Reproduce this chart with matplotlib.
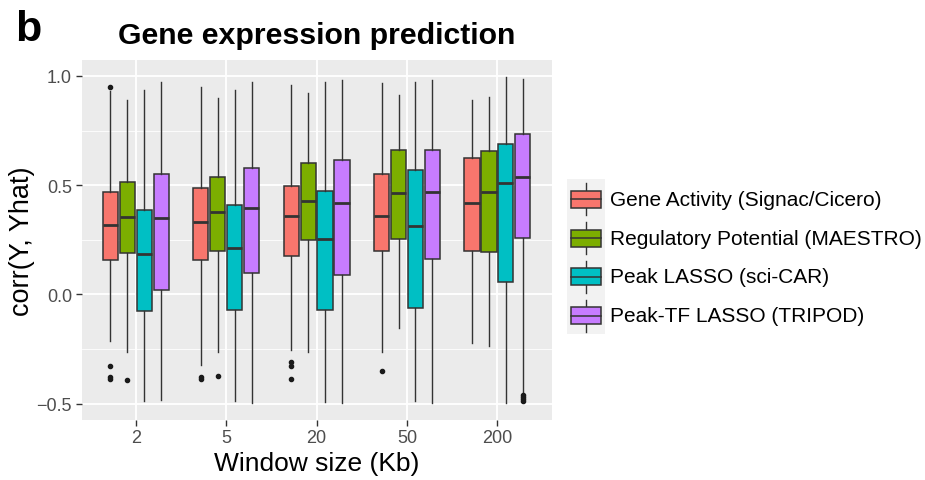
import matplotlib
matplotlib.use('Agg')
import matplotlib.pyplot as plt
from matplotlib.patches import Rectangle

plt.rcParams['font.family'] = ['Liberation Sans', 'DejaVu Sans']

# Data
windows = ['2', '5', '20', '50', '200']
methods = ['Gene Activity (Signac/Cicero)', 'Regulatory Potential (MAESTRO)',
           'Peak LASSO (sci-CAR)', 'Peak-TF LASSO (TRIPOD)']
colors = ['#F8766D', '#7CAE00', '#00BFC4', '#C77CFF']

# one row per method, one column per window size
medians = [[0.319, 0.331, 0.359, 0.359, 0.418],
           [0.353, 0.377, 0.427, 0.463, 0.470],
           [0.186, 0.212, 0.255, 0.315, 0.510],
           [0.350, 0.394, 0.418, 0.467, 0.539]]
q1 = [[0.159, 0.159, 0.177, 0.198, 0.200],
      [0.188, 0.200, 0.249, 0.253, 0.192],
      [-0.076, -0.073, -0.072, -0.063, 0.056],
      [0.021, 0.096, 0.087, 0.162, 0.260]]
q3 = [[0.469, 0.489, 0.498, 0.550, 0.626],
      [0.513, 0.536, 0.600, 0.663, 0.658],
      [0.388, 0.408, 0.475, 0.569, 0.687],
      [0.551, 0.577, 0.615, 0.660, 0.733]]
whisk_lo = [[-0.212, -0.324, -0.255, -0.263, -0.224],
            [-0.266, -0.263, -0.263, -0.153, -0.238],
            [-0.490, -0.490, -0.495, -0.490, -0.496],
            [-0.482, -0.498, -0.499, -0.499, -0.450]]
whisk_hi = [[0.933, 0.951, 0.959, 0.968, 0.889],
            [0.892, 0.898, 0.921, 0.913, 0.904],
            [0.937, 0.937, 0.974, 0.971, 0.997],
            [0.974, 0.974, 0.982, 0.982, 0.985]]
outliers = [[[0.951, -0.327, -0.380, -0.388], [-0.380, -0.388],
             [-0.308, -0.327, -0.388], [-0.350], []],
            [[-0.392], [-0.373], [], [], []],
            [[], [], [], [], []],
            [[], [], [], [], [-0.46, -0.47, -0.48, -0.49]]]

W, H = 925, 481
fig = plt.figure(figsize=(W / 100, H / 100), dpi=100)
ax = fig.add_axes([81.6 / W, (H - 420.7) / H, 470 / W, 359.5 / H])
ax.set_facecolor('#EBEBEB')

slot = 0.75 / 4
edge = '#333333'
for m in range(4):
    stats = []
    for w in range(5):
        stats.append(dict(med=medians[m][w], q1=q1[m][w], q3=q3[m][w],
                          whislo=whisk_lo[m][w], whishi=whisk_hi[m][w],
                          fliers=outliers[m][w]))
    pos = [w + 1 + (m - 1.5) * slot for w in range(5)]
    ax.bxp(stats, positions=pos, widths=slot * 0.9, patch_artist=True,
           showcaps=False,
           boxprops=dict(facecolor=colors[m], edgecolor=edge, linewidth=1.1),
           medianprops=dict(color=edge, linewidth=2.0),
           whiskerprops=dict(color=edge, linewidth=1.0),
           flierprops=dict(marker='o', markersize=3, markerfacecolor='#1a1a1a',
                           markeredgecolor='#1a1a1a'),
           zorder=3)

ax.set_xlim(0.4, 5.6)
ax.set_ylim(-0.574, 1.072)
ax.set_xticks(range(1, 6))
ax.set_xticklabels(windows)
ax.set_yticks([-0.5, 0.0, 0.5, 1.0])
ax.set_yticklabels(['\u22120.5', '0.0', '0.5', '1.0'])
ax.set_yticks([-0.25, 0.25, 0.75], minor=True)
ax.grid(True, which='major', color='white', linewidth=1.3, zorder=0)
ax.grid(True, which='minor', axis='y', color='white', linewidth=0.6, zorder=0)
ax.set_axisbelow(True)
for s in ax.spines.values():
    s.set_visible(False)
ax.tick_params(axis='both', which='major', colors='#333333', length=4, width=1.0,
               labelsize=13, labelcolor='#4D4D4D', pad=3)
ax.tick_params(axis='y', which='minor', length=0)
ax.set_xlabel('Window size (Kb)', fontsize=19)
ax.xaxis.set_label_coords(0.5, -0.088)
ax.set_ylabel('corr(Y, Yhat)', fontsize=19.5)
ax.yaxis.set_label_coords(-0.099, 0.5)

fig.text(316.7 / W, 1 - 36 / H, 'Gene expression prediction', fontsize=21.8,
         fontweight='bold', ha='center', va='center')
fig.text(15 / W, 1 - 30 / H, 'b', fontsize=31, fontweight='bold',
         ha='left', va='center')

# legend drawn by hand in pixel units
lax = fig.add_axes([567 / W, (H - 335) / H, 38 / W, 155 / H])
lax.set_xlim(0, 38)
lax.set_ylim(155, 0)
lax.set_facecolor('#F2F2F2')
lax.set_xticks([])
lax.set_yticks([])
for s in lax.spines.values():
    s.set_visible(False)
row = 155 / 4
for m in range(4):
    cy = row * m + row / 2 + 1
    lax.plot([19, 19], [cy - 16, cy + 16], color=edge, lw=1.0, zorder=1)
    lax.add_patch(Rectangle((4, cy - 8.5), 30, 17, facecolor=colors[m],
                            edgecolor=edge, lw=1.1, zorder=2))
    lax.plot([4, 34], [cy, cy], color=edge, lw=1.1, zorder=3)
    fig.text(610 / W, 1 - (180 + cy) / H, methods[m], fontsize=15,
             ha='left', va='center', color='black')

fig.savefig('out.png', dpi=100)
